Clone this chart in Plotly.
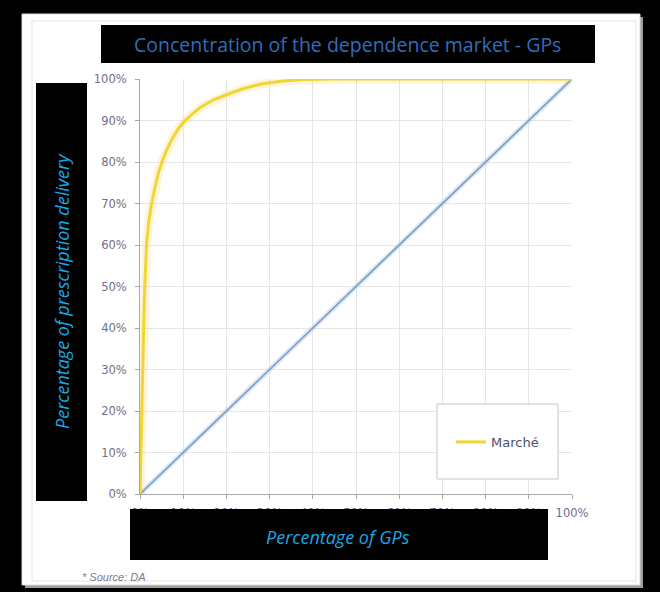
import plotly.graph_objects as go

# Cumulative share of prescriptions delivered vs cumulative share of GPs
gp_share = [0, 0.2, 0.4, 0.6, 0.8, 1.0, 1.5, 2.0, 2.7, 3.5, 4.3, 5.1, 6.2, 7.5,
            9.0, 10, 12, 14, 17, 20, 24, 28, 33, 38, 45, 100]
delivery_share = [0, 12, 21, 30, 38, 47, 60, 65.5, 70, 74, 77.5, 80, 83, 85.7,
                  88.2, 89.5, 91.5, 93.2, 95, 96.2, 97.7, 98.8, 99.5, 99.85, 100, 100]

# Line of perfect equality
equality_x = [0, 100]
equality_y = [0, 100]

tick_values = [0, 10, 20, 30, 40, 50, 60, 70, 80, 90, 100]
tick_labels = ["0%", "10%", "20%", "30%", "40%", "50%",
               "60%", "70%", "80%", "90%", "100%"]

W, H = 660, 592
L, R, T, B = 140, 572, 79, 494  # plot area in pixels


def px(x):
    return (x - L) / (R - L)


def py(y):
    return (B - y) / (B - T)


fig = go.Figure()

# soft glow under the lines
fig.add_trace(go.Scatter(x=equality_x, y=equality_y, mode="lines",
                         line=dict(color="rgba(170,200,232,0.45)", width=5),
                         showlegend=False, hoverinfo="skip"))
fig.add_trace(go.Scatter(x=gp_share, y=delivery_share, mode="lines",
                         line=dict(color="rgba(250,220,130,0.30)", width=9),
                         showlegend=False, hoverinfo="skip"))

fig.add_trace(go.Scatter(x=equality_x, y=equality_y, mode="lines",
                         line=dict(color="#7C9DC2", width=1.6),
                         showlegend=False))
fig.add_trace(go.Scatter(x=gp_share, y=delivery_share, mode="lines",
                         name="Marché",
                         line=dict(color="#F0D634", width=3)))

tick_font = dict(family="DejaVu Sans", size=11.5, color="#6E6E88")
axis_common = dict(
    range=[0, 100], tickmode="array", tickvals=tick_values, ticktext=tick_labels,
    showgrid=True, gridcolor="#E6E6E6", gridwidth=1,
    zeroline=False, showline=True, linecolor="#A8A8A8", linewidth=1,
    ticks="outside", ticklen=4, tickcolor="#A8A8A8",
    tickfont=tick_font, fixedrange=True,
)

fig.update_xaxes(**axis_common, ticklabelstandoff=4)
fig.update_yaxes(**axis_common, ticklabelstandoff=6)

shapes = [
    # page shadow, page and chart-area frame
    dict(type="rect", xref="paper", yref="paper", layer="below",
         x0=px(25), x1=px(643), y0=py(17), y1=py(588),
         fillcolor="#9C9C9C", line=dict(width=0)),
    dict(type="rect", xref="paper", yref="paper", layer="below",
         x0=px(22), x1=px(640), y0=py(14), y1=py(585),
         fillcolor="white", line=dict(color="#DADADA", width=1)),
    dict(type="rect", xref="paper", yref="paper", layer="below",
         x0=px(32), x1=px(636), y0=py(21), y1=py(581),
         fillcolor="white", line=dict(color="#EDEDED", width=1.5)),
    # caption boxes
    dict(type="rect", xref="paper", yref="paper", layer="above",
         x0=px(101), x1=px(595), y0=py(25), y1=py(63),
         fillcolor="black", line=dict(width=0)),
    dict(type="rect", xref="paper", yref="paper", layer="above",
         x0=px(36), x1=px(87), y0=py(83), y1=py(501),
         fillcolor="black", line=dict(width=0)),
    dict(type="rect", xref="paper", yref="paper", layer="above",
         x0=px(130), x1=px(548), y0=py(509), y1=py(560),
         fillcolor="black", line=dict(width=0)),
    # legend frame
    dict(type="rect", xref="paper", yref="paper", layer="above",
         x0=px(437), x1=px(558), y0=py(404), y1=py(479),
         fillcolor="white", line=dict(color="#C4C4C4", width=1)),
]

annotations = [
    dict(text="Concentration of the dependence market - GPs",
         xref="paper", yref="paper", x=px(347), y=py(44),
         xanchor="center", yanchor="middle", showarrow=False,
         font=dict(family="Open Sans", size=19.5, color="#2F6EBA")),
    dict(text="<i>Percentage of prescription delivery</i>",
         xref="paper", yref="paper", x=px(62), y=py(291), textangle=-90,
         xanchor="center", yanchor="middle", showarrow=False,
         font=dict(family="Open Sans", size=18, color="#19A9E6")),
    dict(text="<i>Percentage of GPs</i>",
         xref="paper", yref="paper", x=px(338), y=py(537),
         xanchor="center", yanchor="middle", showarrow=False,
         font=dict(family="Open Sans", size=18, color="#19A9E6")),
    dict(text="<i>* Source: DA</i>",
         xref="paper", yref="paper", x=px(80), y=py(577),
         xanchor="left", yanchor="middle", showarrow=False,
         font=dict(family="Liberation Sans", size=11, color="#7A7A8A")),
]

fig.update_layout(
    width=W, height=H,
    margin=dict(l=L, r=W - R, t=T, b=H - B, pad=0),
    paper_bgcolor="black", plot_bgcolor="white",
    shapes=shapes, annotations=annotations,
    showlegend=True,
    legend=dict(x=px(451), y=py(442), xanchor="left", yanchor="middle",
                bgcolor="rgba(0,0,0,0)", borderwidth=0,
                font=dict(family="DejaVu Sans", size=13, color="#4E4E6E")),
)

fig.write_html("out.html", config={"displayModeBar": False})
